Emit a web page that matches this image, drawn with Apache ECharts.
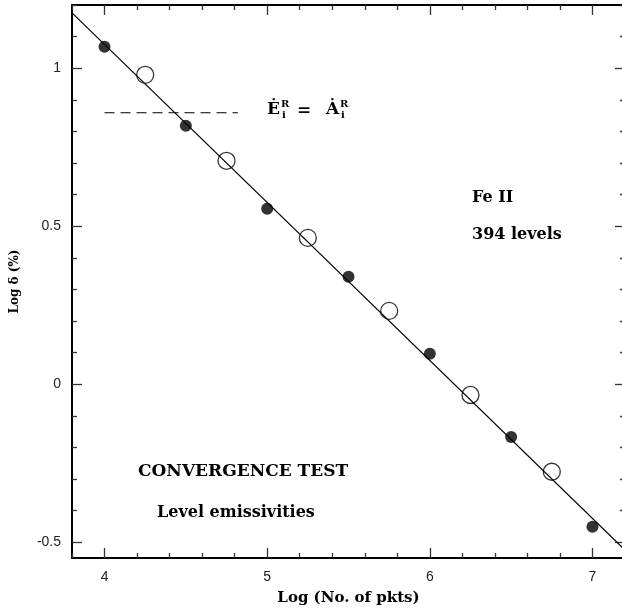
<!DOCTYPE html>
<html>
<head>
<meta charset="utf-8">
<script src="https://cdn.jsdelivr.net/npm/echarts@6/dist/echarts.min.js"></script>
<style>html,body{margin:0;padding:0;background:#fff;}#c{width:622px;height:610px;}</style>
</head>
<body>
<div id="c"></div>
<script>
// Filled points (integer and half-integer Log N)
var xFilled = [4.0, 4.5, 5.0, 5.5, 6.0, 6.5, 7.0];
var yFilled = [1.068, 0.818, 0.555, 0.340, 0.096, -0.167, -0.451];
// Open points
var xOpen = [4.25, 4.75, 5.25, 5.75, 6.25, 6.75];
var yOpen = [0.979, 0.707, 0.463, 0.232, -0.034, -0.277];
// Fitted line end points
var fitX = [3.8, 7.2];
var fitY = [1.175, -0.525];
// Dashed reference line
var dashX = [4.0, 4.82];
var dashY = [0.859, 0.859];
// Axis ticks and labels
var xMajor = [4, 5, 6, 7];
var xMinor = [3.8, 4.2, 4.4, 4.6, 4.8, 5.2, 5.4, 5.6, 5.8, 6.2, 6.4, 6.6, 6.8, 7.2];
var yMajor = [-0.5, 0, 0.5, 1];
var yMinor = [-0.4, -0.3, -0.2, -0.1, 0.1, 0.2, 0.3, 0.4, 0.6, 0.7, 0.8, 0.9, 1.1, 1.2];
var xLabels = ['4', '5', '6', '7'];
var yLabels = ['-0.5', '0', '0.5', '1'];

function pairs(xs, ys) { return xs.map(function (x, i) { return [x, ys[i]]; }); }

var XMIN = 3.8, XMAX = 7.2, YMIN = -0.55, YMAX = 1.2;
var tickColor = '#333';

function xAx(pos, ticks, len, showLine, showLabel, extra) {
  var a = {
    type: 'value', position: pos, min: XMIN, max: XMAX, gridIndex: 0,
    axisLine: { show: showLine, onZero: false, lineStyle: { color: '#000', width: 2 } },
    axisTick: { show: true, inside: true, length: len, customValues: ticks, lineStyle: { color: tickColor, width: 1.3 } },
    axisLabel: showLabel ? {
      show: true, customValues: ticks, margin: 12, color: '#222', fontSize: 14, fontFamily: 'Liberation Sans',
      formatter: function (v) { var i = xMajor.indexOf(Math.round(v * 10) / 10); return i >= 0 ? xLabels[i] : ''; }
    } : { show: false },
    splitLine: { show: false }
  };
  if (extra) for (var k in extra) a[k] = extra[k];
  return a;
}
function yAx(pos, ticks, len, showLine, showLabel, extra) {
  var a = {
    type: 'value', position: pos, min: YMIN, max: YMAX, gridIndex: 0,
    axisLine: { show: showLine, onZero: false, lineStyle: { color: '#000', width: 2 } },
    axisTick: { show: true, inside: true, length: len, customValues: ticks, lineStyle: { color: tickColor, width: 1.3 } },
    axisLabel: showLabel ? {
      show: true, customValues: ticks, margin: 11, color: '#222', fontSize: 14, fontFamily: 'Liberation Sans',
      formatter: function (v) { var i = yMajor.indexOf(Math.round(v * 10) / 10); return i >= 0 ? yLabels[i] : ''; }
    } : { show: false },
    splitLine: { show: false }
  };
  if (extra) for (var k in extra) a[k] = extra[k];
  return a;
}

var chart = echarts.init(document.getElementById('c'), null, { renderer: 'canvas' });
var textBase = { fill: '#000', textAlign: 'left', textVerticalAlign: 'middle' };
function txt(x, y, s, font) {
  return { type: 'text', style: Object.assign({ x: x, y: y, text: s, font: font }, textBase), z: 10 };
}
var eqFont = 'bold 17px "DejaVu Serif"';
var smFont = 'bold 10px "DejaVu Serif"';

chart.setOption({
  animation: false,
  backgroundColor: '#fff',
  grid: { left: 72, top: 5, width: 553, height: 553, containLabel: false, outerBoundsMode: 'none' },
  xAxis: [
    xAx('bottom', xMajor, 10, true, true, {
      name: 'Log (No. of pkts)', nameLocation: 'middle', nameGap: 33,
      nameTextStyle: { fontFamily: 'DejaVu Serif', fontWeight: 'bold', fontSize: 15, color: '#000' }
    }),
    xAx('bottom', xMinor, 5, false, false),
    xAx('top', xMajor, 10, true, false),
    xAx('top', xMinor, 5, false, false)
  ],
  yAxis: [
    yAx('left', yMajor, 10, true, true, {
      name: 'Log δ (%)', nameLocation: 'middle', nameGap: 51, nameRotate: 90,
      nameTextStyle: { fontFamily: 'DejaVu Serif', fontWeight: 'bold', fontSize: 12, color: '#000' }
    }),
    yAx('left', yMinor, 5, false, false),
    yAx('right', yMajor, 10, true, false),
    yAx('right', yMinor, 5, false, false)
  ],
  series: [
    {
      type: 'line', data: pairs(fitX, fitY), symbol: 'none', silent: true,
      lineStyle: { color: '#000', width: 1.2 }, z: 2
    },
    {
      type: 'line', data: pairs(dashX, dashY), symbol: 'none', silent: true,
      lineStyle: { color: '#000', width: 1.1, type: [10, 6] }, z: 2
    },
    {
      type: 'scatter', data: pairs(xFilled, yFilled), symbol: 'circle', symbolSize: 12,
      itemStyle: { color: '#000' }, z: 3
    },
    {
      type: 'scatter', data: pairs(xOpen, yOpen), symbol: 'circle', symbolSize: 17,
      itemStyle: { color: 'rgba(255,255,255,0)', borderColor: '#000', borderWidth: 1.3 }, z: 3
    }
  ],
  graphic: [
    txt(267, 110, '\u0116', eqFont),
    txt(281, 104, 'R', smFont),
    txt(282, 115, 'i', smFont),
    txt(297, 111, '=', eqFont),
    txt(326, 110, '\u0226', eqFont),
    txt(340, 104, 'R', smFont),
    txt(341, 115, 'i', smFont),
    txt(472, 198, 'Fe II', 'bold 16px "DejaVu Serif"'),
    txt(472, 235, '394 levels', 'bold 16px "DejaVu Serif"'),
    txt(138, 472, 'CONVERGENCE TEST', 'bold 17px "DejaVu Serif"'),
    txt(157, 513, 'Level emissivities', 'bold 16px "DejaVu Serif"')
  ]
});
</script>
</body>
</html>
